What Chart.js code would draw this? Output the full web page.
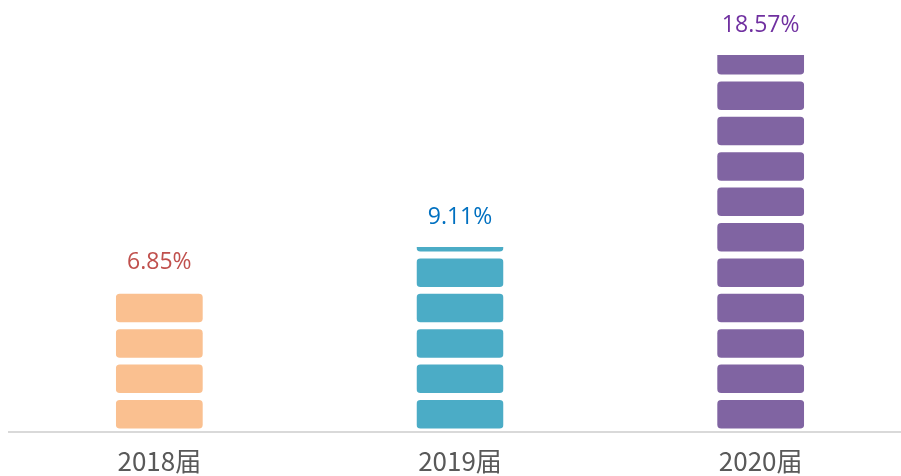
<!DOCTYPE html>
<html>
<head>
<meta charset="utf-8">
<script src="https://cdn.jsdelivr.net/npm/chart.js@4.4.1/dist/chart.umd.min.js"></script>
<style>
  html, body { margin: 0; padding: 0; background: #fff; overflow: hidden; }
  #wrap { width: 911px; height: 476px; }
</style>
</head>
<body>
<div id="wrap"><canvas id="c"></canvas></div>
<script>
const categories = ['2018届', '2019届', '2020届'];
const rates = [6.85, 9.11, 18.57];
const rateLabels = ['6.85%', '9.11%', '18.57%'];
const barColors = ['#fac090', '#4bacc6', '#8064a2'];
const labelColors = ['#c0504d', '#0070c0', '#7030a0'];

// block look (pixels)
const BLOCK_PITCH = 35.4;
const BLOCK_H = 28.5;
const BLOCK_GAP_BOTTOM = 3.5;

// draws each bar as a stack of rounded blocks, clipped to the bar's extent
const blockBars = {
    id: 'blockBars',
    afterDatasetsDraw(chart) {
        const ctx = chart.ctx;
        const meta = chart.getDatasetMeta(0);
        meta.data.forEach((bar, i) => {
            const left = bar.x - bar.width / 2;
            const top = bar.y;
            const bottom = bar.base;
            ctx.save();
            ctx.beginPath();
            ctx.rect(left, top, bar.width, bottom - top);
            ctx.clip();
            ctx.fillStyle = barColors[i];
            for (let b = bottom - BLOCK_GAP_BOTTOM; b > top; b -= BLOCK_PITCH) {
                ctx.beginPath();
                ctx.roundRect(left, b - BLOCK_H, bar.width, BLOCK_H, 4);
                ctx.fill();
            }
            ctx.restore();

            ctx.save();
            ctx.fillStyle = labelColors[i];
            ctx.font = '23px "Open Sans"';
            ctx.textAlign = 'center';
            ctx.textBaseline = 'middle';
            ctx.fillText(rateLabels[i], bar.x, top - 30);
            ctx.restore();
        });
    }
};

new Chart(document.getElementById('c').getContext('2d'), {
    type: 'bar',
    data: {
        labels: categories,
        datasets: [{
            data: rates,
            backgroundColor: 'transparent',
            borderWidth: 0,
            barThickness: 87
        }]
    },
    options: {
        responsive: true,
        maintainAspectRatio: false,
        animation: false,
        layout: {
            padding: { left: 9, top: 0, right: 0, bottom: 0 }
        },
        plugins: {
            legend: { display: false },
            tooltip: { enabled: false }
        },
        scales: {
            y: {
                display: false,
                min: 0,
                max: 21.28
            },
            x: {
                afterFit: function (scale) {
                    scale.height = 44;
                },
                grid: {
                    display: false,
                    drawTicks: false
                },
                border: {
                    display: true,
                    color: '#d9d9d9',
                    width: 2
                },
                ticks: {
                    color: '#595959',
                    padding: 14,
                    font: {
                        family: '"Noto Sans CJK SC"',
                        size: 26
                    }
                }
            }
        }
    },
    plugins: [blockBars]
});
</script>
</body>
</html>
